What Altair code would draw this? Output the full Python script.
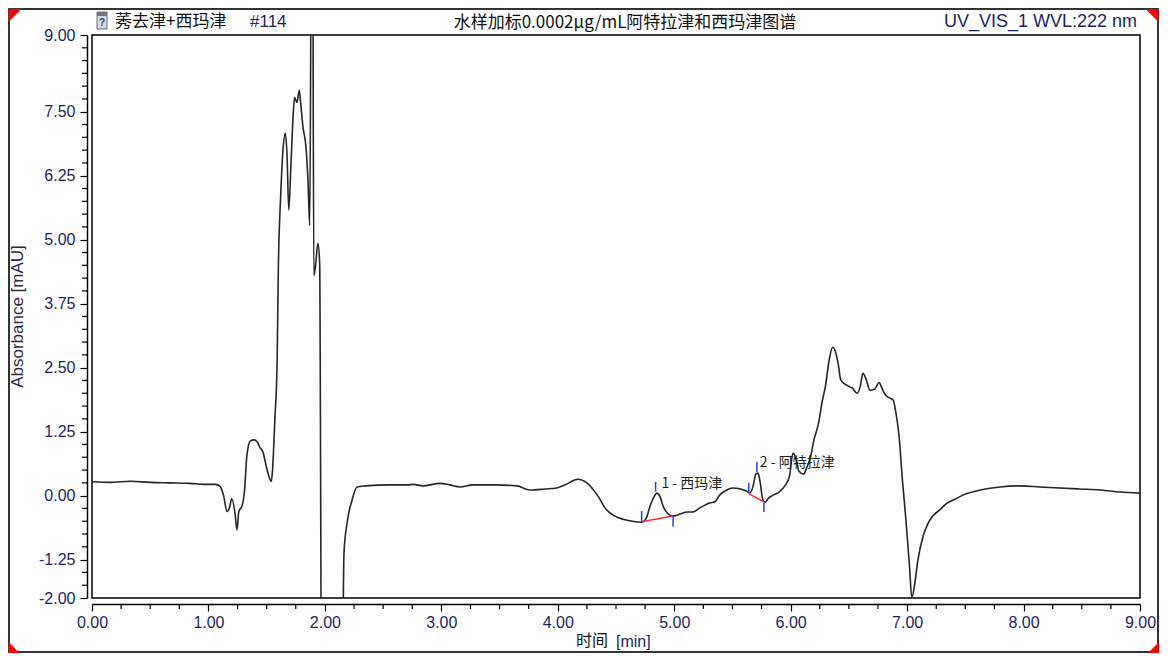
import altair as alt
import pandas as pd

# ---------------- data ----------------
time_min = [0.00, 0.155, 0.33, 0.50, 0.67, 0.84, 0.97, 1.06, 1.10, 1.13, 1.16, 1.18, 1.20, 1.23, 1.245,
            1.26, 1.29, 1.31, 1.33, 1.36, 1.39, 1.42, 1.44, 1.47, 1.49, 1.52, 1.54, 1.55, 1.57, 1.59,
            1.60, 1.62, 1.64, 1.66, 1.675, 1.69, 1.71, 1.73, 1.74, 1.76, 1.78, 1.79, 1.81, 1.84, 1.855,
            1.87, 1.886, 1.894, 1.905, 1.92, 1.94, 1.955, 1.975, 2.05, 2.14, 2.164, 2.19, 2.233, 2.276, 2.345,
            2.56, 2.71, 2.76, 2.84, 2.99, 3.07, 3.16, 3.27, 3.46, 3.65, 3.76, 3.89, 3.99, 4.08, 4.17,
            4.25, 4.34, 4.42, 4.49, 4.56, 4.64, 4.72, 4.76, 4.79, 4.83, 4.85, 4.88, 4.90, 4.94, 4.99,
            5.05, 5.11, 5.16, 5.22, 5.31, 5.35, 5.39, 5.45, 5.50, 5.57, 5.62, 5.65, 5.68, 5.70, 5.72,
            5.74, 5.76, 5.78, 5.81, 5.85, 5.90, 5.95, 5.99, 6.02, 6.05, 6.07, 6.11, 6.14, 6.17, 6.20,
            6.24, 6.27, 6.30, 6.33, 6.36, 6.38, 6.41, 6.43, 6.48, 6.53, 6.57, 6.60, 6.62, 6.65, 6.68,
            6.72, 6.76, 6.78, 6.81, 6.84, 6.88, 6.90, 6.93, 6.96, 6.99, 7.02, 7.04, 7.07, 7.09, 7.14,
            7.18, 7.22, 7.28, 7.34, 7.41, 7.50, 7.63, 7.80, 7.97, 8.14, 8.31, 8.48, 8.66, 8.83, 9.00]
absorbance = [0.27, 0.26, 0.28, 0.26, 0.25, 0.24, 0.22, 0.22, 0.18, 0.00, -0.31, -0.24, -0.06, -0.38, -0.67,
              -0.32, -0.19, 0.10, 0.78, 1.07, 1.09, 1.05, 0.95, 0.84, 0.64, 0.37, 0.28, 0.49, 1.47, 2.64,
              4.40, 5.83, 6.75, 7.08, 6.65, 5.58, 6.55, 7.53, 7.78, 7.68, 7.92, 7.72, 7.24, 6.75, 6.16,
              5.28, 12.0, 12.0, 4.30, 4.50, 4.93, 4.55, -6.0, -6.0, -6.0, -1.12, -0.54, -0.09, 0.17, 0.19,
              0.21, 0.21, 0.22, 0.19, 0.24, 0.21, 0.17, 0.21, 0.21, 0.19, 0.11, 0.13, 0.15, 0.23, 0.32,
              0.25, 0.01, -0.28, -0.40, -0.46, -0.50, -0.52, -0.44, -0.22, -0.01, 0.05, -0.03, -0.18, -0.34, -0.40,
              -0.36, -0.32, -0.32, -0.24, -0.14, -0.12, 0.01, 0.11, 0.15, 0.13, 0.09, 0.05, 0.21, 0.42, 0.44,
              0.23, -0.07, -0.13, -0.05, 0.01, 0.07, 0.19, 0.38, 0.83, 0.69, 0.48, 0.42, 0.56, 0.75, 1.09,
              1.42, 1.83, 2.16, 2.64, 2.90, 2.84, 2.55, 2.26, 2.16, 2.10, 2.00, 2.16, 2.39, 2.26, 2.06,
              2.08, 2.21, 2.12, 1.98, 1.92, 1.87, 1.67, 1.18, 0.30, -0.48, -1.36, -1.99, -1.65, -1.30, -0.77,
              -0.54, -0.40, -0.28, -0.15, -0.07, 0.03, 0.11, 0.17, 0.19, 0.17, 0.15, 0.13, 0.11, 0.07, 0.05]

# peak integration marks (blue ticks) and baselines (red)
tick_t = [4.72, 4.84, 4.99, 5.64, 5.71, 5.77]
tick_a1 = [-0.52, 0.08, -0.40, 0.05, 0.46, -0.13]
tick_a2 = [-0.30, 0.27, -0.61, 0.25, 0.66, -0.32]
base_t1 = [4.72, 5.64]
base_a1 = [-0.51, 0.04]
base_t2 = [4.99, 5.77]
base_a2 = [-0.40, -0.12]

peak_labels = ["1 - 西玛津", "2 - 阿特拉津"]
label_t = [4.89, 5.735]
label_a = [0.22, 0.63]

# axis ticks
x_major = [0, 1, 2, 3, 4, 5, 6, 7, 8, 9]
x_minor = [i * 0.25 for i in range(37) if i % 4 != 0]
y_major = [9, 7.5, 6.25, 5, 3.75, 2.5, 1.25, 0, -1.25, -2]
y_minor = [-2 + i * 0.25 for i in range(45) if (-2 + i * 0.25) not in y_major]

title_left = "莠去津+西玛津"
title_left_num = "#114"
title_center = "水样加标0.0002μg/mL阿特拉津和西玛津图谱"
title_right = "UV_VIS_1 WVL:222 nm"
y_title = "Absorbance [mAU]"
x_title_cn = "时间"
x_title_unit = "[min]"

W, H = 1048, 563
NAVY = "#1b1f66"
LATIN = "Liberation Sans"
CJK = "Noto Sans CJK SC"

trace = pd.DataFrame({"t": time_min, "a": absorbance})
ticks = pd.DataFrame({"t": tick_t, "a1": tick_a1, "a2": tick_a2})
bases = pd.DataFrame({"t": base_t1, "a": base_a1, "t2": base_t2, "a2": base_a2})
labels = pd.DataFrame({"t": label_t, "a": label_a, "label": peak_labels})
xminor_df = pd.DataFrame({"t": x_minor})
yminor_df = pd.DataFrame({"a": y_minor})
one = pd.DataFrame({"k": [0]})

xscale = alt.Scale(domain=[0, 9], nice=False, zero=False)
yscale = alt.Scale(domain=[-2, 9], nice=False, zero=False)

hyphen_fmt = "datum.value < 0 ? '-' + format(-datum.value, '.2f') : format(datum.value, '.2f')"

xaxis = alt.Axis(
    values=x_major, title=None, grid=False, offset=6, labelExpr=hyphen_fmt,
    labelFlush=False, labelOverlap=False, labelFont=LATIN, labelFontSize=16,
    labelColor=NAVY, labelPadding=3, tickSize=7,
    tickColor="black", tickWidth=1.2, domainColor="black", domainWidth=1.5,
)
yaxis = alt.Axis(
    values=y_major, title=None, grid=False, offset=5, labelExpr=hyphen_fmt,
    labelFlush=False, labelOverlap=False, labelFont=LATIN, labelFontSize=16,
    labelColor=NAVY, labelPadding=5, tickSize=7,
    tickColor="black", tickWidth=1.2, domainColor="black", domainWidth=1.5,
)

line = alt.Chart(trace).mark_line(
    clip=True, color="#262626", strokeWidth=1.6, interpolate="monotone"
).encode(
    x=alt.X("t:Q", scale=xscale, axis=xaxis),
    y=alt.Y("a:Q", scale=yscale, axis=yaxis),
)

# minor ticks (outside the plot, beside the offset axis lines)
x_minor_ticks = alt.Chart(xminor_df).mark_rule(color="black", strokeWidth=1.2, clip=False).encode(
    x=alt.X("t:Q", title=None), y=alt.value(H + 6), y2=alt.value(H + 11)
)
y_minor_ticks = alt.Chart(yminor_df).mark_rule(color="black", strokeWidth=1.2, clip=False).encode(
    y=alt.Y("a:Q", title=None), x=alt.value(-5), x2=alt.value(-10)
)

baseline = alt.Chart(bases).mark_rule(color="#ff2a2a", strokeWidth=1.5).encode(
    x=alt.X("t:Q", title=None), y=alt.Y("a:Q", title=None), x2="t2:Q", y2="a2:Q"
)
tick_marks = alt.Chart(ticks).mark_rule(color="#2a3cff", strokeWidth=1.5).encode(
    x=alt.X("t:Q", title=None), y=alt.Y("a1:Q", title=None), y2="a2:Q"
)
peak_text = alt.Chart(labels).mark_text(
    align="left", baseline="middle", font=CJK, fontSize=14, color="#1e1e1e"
).encode(x=alt.X("t:Q", title=None), y=alt.Y("a:Q", title=None), text="label:N")


def txt(s, x, y, **kw):
    return alt.Chart(one).mark_text(text=s, baseline="middle", **kw).encode(
        x=alt.value(x), y=alt.value(y)
    )


def tri(path, x, y, size):
    return alt.Chart(one).mark_point(
        shape=path, filled=True, color="#ff0000", opacity=1, size=size, strokeWidth=0
    ).encode(x=alt.value(x), y=alt.value(y))


frame = alt.Chart(one).mark_rect(fill=None, stroke="#333333", strokeWidth=2).encode(
    x=alt.value(-83), x2=alt.value(W + 18), y=alt.value(-26), y2=alt.value(H + 54)
)
icon = alt.Chart(one).mark_rect(fill="#d5d9e2", stroke="#66707e", strokeWidth=1).encode(
    x=alt.value(5), x2=alt.value(15), y=alt.value(-23), y2=alt.value(-6)
)
icon_cap = alt.Chart(one).mark_rect(fill="#6f7785").encode(
    x=alt.value(5), x2=alt.value(15), y=alt.value(-23), y2=alt.value(-19)
)

layers = [
    line, x_minor_ticks, y_minor_ticks, baseline, tick_marks, peak_text, frame,
    icon, icon_cap,
    txt("?", 10, -12, align="center", font=LATIN, fontSize=10, fontWeight="bold", color="#33428a"),
    txt(title_left, 23, -13, align="left", font=CJK, fontSize=17, color="#111111"),
    txt(title_left_num, 158, -13, align="left", font=LATIN, fontSize=17, color=NAVY),
    txt(title_center, 533, -12, align="center", font=CJK, fontSize=17, color="#111111"),
    txt(title_right, 1045, -13, align="right", font=LATIN, fontSize=18, color=NAVY),
    txt(y_title, -74, H / 2, align="center", font=LATIN, fontSize=17, color="#2a2a50", angle=270),
    txt(x_title_cn, 500, 606, align="center", font=CJK, fontSize=16, color="#111111"),
    txt(x_title_unit, 524, 607, align="left", font=LATIN, fontSize=16, color=NAVY),
    tri("M-1,-1L1,-1L-1,1Z", -77, -19.5, 169),
    tri("M-1,-1L1,-1L1,1Z", 1060, -19.5, 169),
    tri("M-1,-1L-1,1L1,1Z", -78, 612.5, 121),
    tri("M1,-1L1,1L-1,1Z", 1061.5, 612.5, 121),
]

chart = alt.layer(*layers).properties(
    width=W, height=H,
    padding={"left": 84, "top": 27, "right": 19, "bottom": 55},
    autosize=alt.AutoSizeParams(type="none"),
).configure(background="white").configure_view(stroke="black", strokeWidth=1.5)

chart.save("out.html", embed_options={"renderer": "svg", "actions": False})
